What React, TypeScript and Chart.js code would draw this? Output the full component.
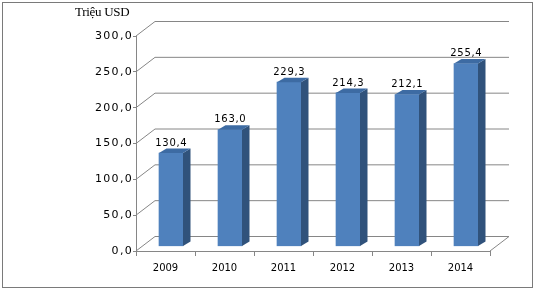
import React, { useEffect, useRef } from "react";
import { Chart, registerables } from "chart.js";

Chart.register(...registerables);

// ---- data ----
const years: string[] = ["2009", "2010", "2011", "2012", "2013", "2014"];
const values: number[] = [130.4, 163.0, 229.3, 214.3, 212.1, 255.4];
const yMin = 0;
const yMax = 300;
const yStep = 50;
const unitLabel = "Triệu USD";

// ---- 3D look ----
const DEPTH_X = 19;
const DEPTH_Y = -14.5;
const BAR_DX = 5.5;
const BAR_DY = -4.5;
const SIDE_DX = 7.5;
const SIDE_DY = -4.5;
const GRID = "#868686";
const FRONT = "#4F81BD";
const SIDE = "#30527B";
const TOP = "#3D6BA3";
const FONT = "'DejaVu Sans', sans-serif";

const fmt = (v: number) => v.toFixed(1).replace(".", ",");

const threeD = {
  id: "threeD",
  afterLayout(chart: any) {
    const ys = chart.scales.y;
    if (ys && !ys._lsPatched) {
      const orig = ys.drawLabels.bind(ys);
      ys.drawLabels = function (area: any) {
        const c = this.ctx;
        c.save();
        c.letterSpacing = "1.3px";
        orig(area);
        c.restore();
      };
      ys._lsPatched = true;
    }
  },
  beforeDatasetsDraw(chart: any) {
    const ctx = chart.ctx;
    const area = chart.chartArea;
    const ys = chart.scales.y;
    ctx.save();
    ctx.strokeStyle = GRID;
    ctx.lineWidth = 1;
    ctx.beginPath();
    for (let v = yMin; v <= yMax; v += yStep) {
      const y = ys.getPixelForValue(v);
      ctx.moveTo(area.left, y);
      ctx.lineTo(area.left + DEPTH_X, y + DEPTH_Y);
      ctx.lineTo(area.right + DEPTH_X, y + DEPTH_Y);
    }
    const y0 = ys.getPixelForValue(yMin);
    ctx.moveTo(area.right, y0);
    ctx.lineTo(area.right + DEPTH_X, y0 + DEPTH_Y);
    ctx.stroke();
    ctx.restore();
    ctx.save();
    ctx.translate(BAR_DX, BAR_DY);
  },
  afterDatasetsDraw(chart: any) {
    const ctx = chart.ctx;
    ctx.restore();
    const meta = chart.getDatasetMeta(0);
    ctx.save();
    meta.data.forEach((bar: any, i: number) => {
      const p = bar.getProps(["x", "y", "base", "width"], true);
      const L = p.x - p.width / 2 + BAR_DX;
      const R = p.x + p.width / 2 + BAR_DX;
      const T = p.y + BAR_DY;
      const B = p.base + BAR_DY;
      ctx.fillStyle = SIDE;
      ctx.beginPath();
      ctx.moveTo(R, T);
      ctx.lineTo(R + SIDE_DX, T + SIDE_DY);
      ctx.lineTo(R + SIDE_DX, B + SIDE_DY);
      ctx.lineTo(R, B);
      ctx.closePath();
      ctx.fill();
      ctx.fillStyle = TOP;
      ctx.beginPath();
      ctx.moveTo(L, T);
      ctx.lineTo(R, T);
      ctx.lineTo(R + SIDE_DX, T + SIDE_DY);
      ctx.lineTo(L + SIDE_DX, T + SIDE_DY);
      ctx.closePath();
      ctx.fill();
      ctx.fillStyle = "#000";
      ctx.font = `10px ${FONT}`;
      ctx.textAlign = "center";
      ctx.textBaseline = "alphabetic";
      (ctx as any).letterSpacing = "0.7px";
      ctx.fillText(fmt(values[i]), p.x + BAR_DX + 0.35, T - 7.3);
      (ctx as any).letterSpacing = "0px";
    });
    ctx.restore();

    // unit label
    ctx.save();
    ctx.fillStyle = "#000";
    ctx.font = "13px 'Liberation Serif', 'Times New Roman', serif";
    ctx.textAlign = "left";
    ctx.textBaseline = "alphabetic";
    (ctx as any).letterSpacing = "-0.3px";
    ctx.fillText(unitLabel, 75, 16.3);
    ctx.restore();

    // outer border
    ctx.save();
    ctx.strokeStyle = "#7a7a7a";
    ctx.lineWidth = 1;
    ctx.strokeRect(2.5, 2.5, 530, 285);
    ctx.restore();
  },
};

export default function App() {
  const ref = useRef<HTMLCanvasElement | null>(null);
  useEffect(() => {
    if (!ref.current) return;
    const chart = new Chart(ref.current, {
      type: "bar",
      data: {
        labels: years,
        datasets: [
          {
            data: values,
            backgroundColor: FRONT,
            borderWidth: 0,
            barThickness: 24,
          },
        ],
      },
      options: {
        responsive: false,
        animation: false,
        devicePixelRatio: 1,
        events: [],
        layout: { padding: { top: 36, right: 46, left: 0, bottom: 0 } },
        plugins: {
          legend: { display: false },
          title: { display: false },
          tooltip: { enabled: false },
        },
        scales: {
          x: {
            grid: { drawOnChartArea: false, tickLength: 5, color: GRID, offset: true },
            border: { color: GRID },
            ticks: {
              font: { family: FONT, size: 10 },
              color: "#000",
              padding: 6,
              maxRotation: 0,
            },
            afterFit: (s: any) => {
              s.height = 40;
            },
          },
          y: {
            min: yMin,
            max: yMax,
            grid: { drawOnChartArea: false, tickLength: 3, color: GRID },
            border: { color: GRID },
            ticks: {
              stepSize: yStep,
              callback: (v: any) => fmt(Number(v)),
              font: { family: FONT, size: 11 },
              color: "#000",
              padding: 0,
            },
            afterFit: (s: any) => {
              s.width = 136;
            },
          },
        },
      },
      plugins: [threeD],
    } as any);
    return () => chart.destroy();
  }, []);
  return (
    <div style={{ position: "fixed", left: 0, top: 0, width: 536, height: 291, background: "#fff" }}>
      <canvas ref={ref} width={536} height={291} style={{ display: "block" }} />
    </div>
  );
}
